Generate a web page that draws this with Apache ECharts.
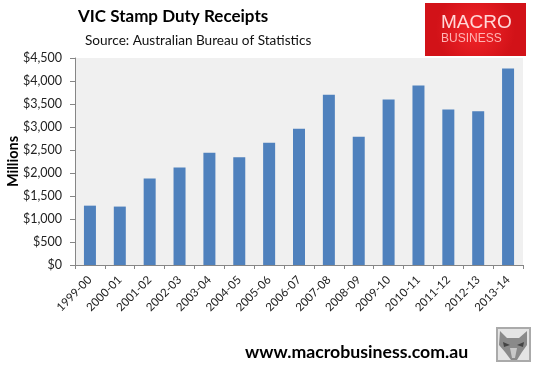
<!DOCTYPE html>
<html><head><meta charset="utf-8">
<style>html,body{margin:0;padding:0;background:#fff}#c{width:536px;height:367px}</style>
<script src="https://cdn.jsdelivr.net/npm/echarts@6/dist/echarts.min.js"></script>
</head><body><div id="c"></div>
<script>
var categories=["1999-00","2000-01","2001-02","2002-03","2003-04","2004-05","2005-06","2006-07","2007-08","2008-09","2009-10","2010-11","2011-12","2012-13","2013-14"];
var receipts=[1290,1270,1880,2120,2440,2340,2660,2960,3700,2790,3600,3900,3380,3340,4270];
var FONT='Lato, "Open Sans", sans-serif';
var chart=echarts.init(document.getElementById('c'),null,{renderer:'canvas'});
chart.setOption({
 animation:false,
 backgroundColor:'#fff',
 grid:{left:75,top:58,width:448,height:207,outerBoundsMode:'none',containLabel:false,backgroundColor:'#f0f0f0',show:true,borderWidth:0},
 xAxis:{type:'category',data:categories,
  axisLine:{lineStyle:{color:'#868686',width:1}},
  axisTick:{show:true,alignWithLabel:false,length:4,lineStyle:{color:'#868686'}},
  axisLabel:{rotate:45,interval:0,fontFamily:FONT,fontSize:11.5,color:'#222',margin:13},
  splitLine:{show:false}},
 yAxis:{type:'value',min:0,max:4500,interval:500,name:'Millions',nameLocation:'middle',nameGap:54,nameMoveOverlap:false,
  nameTextStyle:{fontFamily:FONT,fontSize:14.5,fontWeight:'bold',color:'#000'},
  axisLine:{show:true,lineStyle:{color:'#868686'}},
  axisTick:{show:true,length:5,lineStyle:{color:'#868686'}},
  axisLabel:{fontFamily:FONT,fontSize:12.5,color:'#222',margin:13,
   formatter:function(v){return '$'+v.toLocaleString('en-US');}},
  splitLine:{show:false}},
 series:[{type:'bar',data:receipts,barWidth:12,itemStyle:{color:'#4f81bd'}}],
 graphic:[
  {type:'text',left:78,top:8,style:{text:'VIC Stamp Duty Receipts',font:'bold 17px '+FONT,fill:'#000'}},
  {type:'text',left:85,top:34,style:{text:'Source: Australian Bureau of Statistics',font:'13.6px '+FONT,fill:'#111'}},
  {type:'rect',shape:{x:425,y:3,width:101,height:53},style:{fill:new echarts.graphic.RadialGradient(0.5,0.5,0.75,[{offset:0,color:'#f4262a'},{offset:1,color:'#d21218'}])}},
  {type:'text',left:441,top:13,style:{text:'MACRO',font:'19px "Liberation Sans", sans-serif',fill:'#ffd8d8'}},
  {type:'text',left:441,top:33,style:{text:'BUSINESS',font:'12px "Liberation Sans", sans-serif',fill:'#ffb4b4',letterSpacing:2}},
  {type:'text',left:245,top:343,style:{text:'www.macrobusiness.com.au',font:'bold 17.7px '+FONT,fill:'#000'}},
  {type:'rect',shape:{x:497,y:328,width:33,height:33},style:{fill:'#e4e4e4',stroke:'#aaa',lineWidth:2}},
  {type:'polygon',shape:{points:[[500,331],[507,338],[519,338],[527,331],[527,345],[522,352],[517,360],[511,360],[505,352],[499,345]]},style:{fill:'#8a8a8a'}},
  {type:'polygon',shape:{points:[[503,342],[510,345],[504,347]]},style:{fill:'#444'}},
  {type:'polygon',shape:{points:[[524,342],[517,345],[523,347]]},style:{fill:'#444'}},
  {type:'polygon',shape:{points:[[510,348],[517,348],[515,358],[512,358]]},style:{fill:'#c8c8c8'}}
 ]
});
</script></body></html>
